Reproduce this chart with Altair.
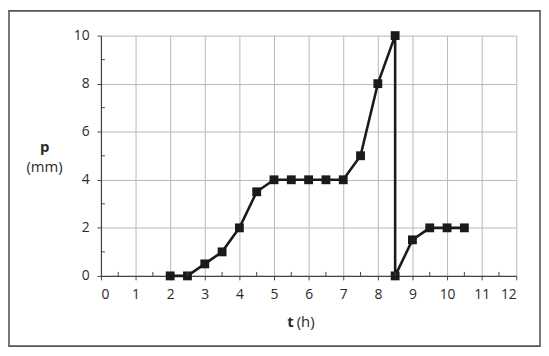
import altair as alt
import pandas as pd

# data
t_vals = [2, 2.5, 3, 3.5, 4, 4.5, 5, 5.5, 6, 6.5, 7, 7.5, 8, 8.5, 8.5, 9, 9.5, 10, 10.5]
p_vals = [0, 0, 0.5, 1, 2, 3.5, 4, 4, 4, 4, 4, 5, 8, 10, 0, 1.5, 2, 2, 2]
x_ticks = list(range(0, 13))
y_ticks = [0, 2, 4, 6, 8, 10]
x_minor = [0.5 + i for i in range(12)]
y_minor = [1, 3, 5, 7, 9]

FONT = "Open Sans"
W, H = 420, 243
PAD = {"left": 94, "top": 26, "right": 25, "bottom": 72}

df = pd.DataFrame({"t": t_vals, "p": p_vals, "i": list(range(len(t_vals)))})

xscale = alt.Scale(domain=[0, 12], nice=False, zero=False)
yscale = alt.Scale(domain=[0, 10], nice=False)
xaxis = alt.Axis(values=x_ticks, title=None, grid=True, format="d", labelOverlap=False,
                 labelFontSize=14, labelPadding=8)
yaxis = alt.Axis(values=y_ticks, title=None, grid=True, format="d", labelOverlap=False,
                 labelFontSize=14, labelPadding=8)

base = alt.Chart(df)
line = base.mark_line(color="#1a1a1a", strokeWidth=2.6).encode(
    x=alt.X("t:Q", scale=xscale, axis=xaxis),
    y=alt.Y("p:Q", scale=yscale, axis=yaxis),
    order="i:Q",
)
points = base.mark_point(shape="square", filled=True, size=80, color="#1a1a1a", opacity=1).encode(
    x=alt.X("t:Q", scale=xscale, axis=xaxis), y=alt.Y("p:Q", scale=yscale, axis=yaxis)
)

xm = alt.Chart(pd.DataFrame({"t": x_minor})).mark_rule(color="#444", strokeWidth=1).encode(
    x=alt.X("t:Q", scale=xscale, axis=xaxis), y=alt.value(H), y2=alt.value(H - 4)
)
ym = alt.Chart(pd.DataFrame({"p": y_minor})).mark_rule(color="#444", strokeWidth=1).encode(
    y=alt.Y("p:Q", scale=yscale, axis=yaxis), x=alt.value(0), x2=alt.value(4)
)

one = pd.DataFrame({"a": [0]})
border = alt.Chart(one).mark_rect(fill=None, stroke="#555", strokeWidth=1.6).encode(
    x=alt.value(-PAD["left"] + 1), x2=alt.value(W + PAD["right"] - 1),
    y=alt.value(-PAD["top"] + 1), y2=alt.value(H + PAD["bottom"] - 1),
)

def txt(s, x, y, bold=False, align="center"):
    return alt.Chart(one).mark_text(
        text=s, font=FONT, fontSize=15, color="#2a2a2a",
        fontWeight="bold" if bold else "normal", align=align, baseline="middle",
    ).encode(x=alt.value(x), y=alt.value(y))

titles = [
    txt("p", -57, 113, bold=True),
    txt("(mm)", -57, 133),
    txt("t", 195, 290, bold=True, align="right"),
    txt("(h)", 198, 290, align="left"),
]

chart = alt.layer(line, points, xm, ym, border, *titles).properties(
    width=W, height=H, padding=PAD, autosize=alt.AutoSizeParams(type="none")
).configure_view(stroke=None).configure_axis(
    labelFont=FONT, labelColor="#2a2a2a",
    domainColor="#444", domainWidth=1.2, tickColor="#444", tickSize=4,
    gridColor="#b8b8b8", gridWidth=1,
)

chart.save("out.html", embed_options={"renderer": "svg", "actions": False})
